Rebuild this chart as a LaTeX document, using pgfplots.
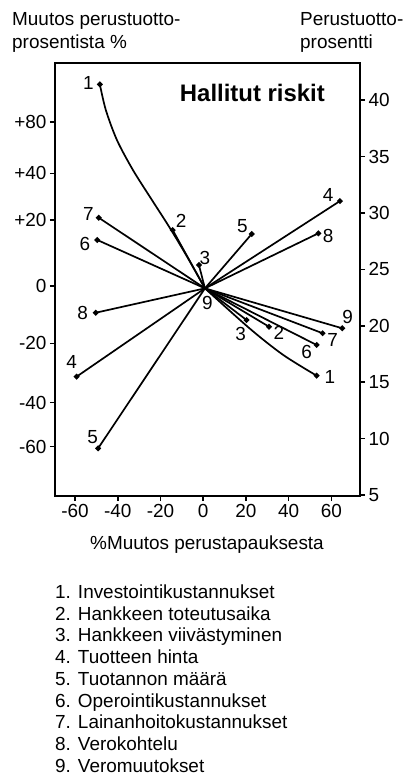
\documentclass[border=0pt]{standalone}
\usepackage{fontspec}
\setmainfont{Liberation Sans}
\usepackage{pgfplots}
\pgfplotsset{compat=1.18}

\pgfplotsset{
  frame/.style={
    at={(55bp,-496bp)}, anchor=south west,
    width=305bp, height=433bp, scale only axis,
    xmin=-69.4, xmax=73.4, ymin=4.91, ymax=43.3,
    tick align=outside,
    major tick length=5bp,
    tick style={black, line width=1.5bp},
    axis line style={black, line width=1.7bp},
    ticklabel style={font=\fontsize{19}{22}\selectfont},
    clip=false,
  },
  riski/.style={black, line width=1.7bp, mark=*, mark size=1.9bp},
}

\begin{document}
\begin{tikzpicture}[font=\fontsize{19}{22}\selectfont]
\path[use as bounding box] (0,0) rectangle (404bp,-775bp);

% left axis: change of the base return (irregular scale)
\begin{axis}[frame,
  xtick=\empty,
  ytick pos=left,
  ytick={38.09,33.52,29.38,23.53,18.45,13.19,9.28},
  yticklabels={+80,+40,+20,0,-20,-40,-60},
]
\end{axis}

% main axis: base return on the right, % change below
\begin{axis}[frame,
  xtick pos=left, ytick pos=right,
  xtick={-60,-40,-20,0,20,40,60},
  xticklabels={-60,-40,-20,0,20,40,60},
  ytick={5,10,15,20,25,30,35,40},
  yticklabels={5,10,15,20,25,30,35,40},
]
% 1 (both branches slightly curved)
\addplot[riski, smooth, mark indices={1}] coordinates {
  (-48.4,41.41) (-45.6,39.13) (-40.4,36.47) (-32.9,33.81) (-24.0,31.15)
  (-15.6,28.67) (-7.2,26.01) (0.8,23.32)};
\addplot[riski, smooth, mark indices={4}] coordinates {
  (0.8,23.32) (21.95,19.73) (37.5,17.41) (53.1,15.58)};
% 2
\addplot[riski, mark indices={1,3}] coordinates {(-14.3,28.49) (0.8,23.32) (30.8,19.92)};
% 3
\addplot[riski, mark indices={1,3}] coordinates {(-2.0,25.39) (0.8,23.32) (20.3,20.51)};
% 4
\addplot[riski, mark indices={1,3}] coordinates {(-59.3,15.49) (0.8,23.32) (64.0,31.06)};
% 5
\addplot[riski, mark indices={1,3}] coordinates {(-49.2,9.14) (0.8,23.32) (22.7,28.14)};
% 6
\addplot[riski, mark indices={1,3}] coordinates {(-49.6,27.61) (0.8,23.32) (53.1,18.30)};
% 7
\addplot[riski, mark indices={1,3}] coordinates {(-48.9,29.58) (0.8,23.32) (55.9,19.34)};
% 8
\addplot[riski, mark indices={1,3}] coordinates {(-50.3,21.16) (0.8,23.32) (53.9,28.20)};
% 9
\addplot[riski, mark indices={2}] coordinates {(0.8,23.32) (65.1,19.78)};

% factor numbers
\node at (axis cs:-53.8,41.5) {1};
\node at (axis cs:59.3,15.49) {1};
\node at (axis cs:-10.4,29.29) {2};
\node at (axis cs:35.4,19.34) {2};
\node at (axis cs:0.8,25.98) {3};
\node at (axis cs:17.5,19.25) {3};
\node at (axis cs:58.5,31.6) {4};
\node at (axis cs:-61.6,16.76) {4};
\node at (axis cs:18.3,28.85) {5};
\node at (axis cs:-51.8,10.17) {5};
\node at (axis cs:-55.4,27.23) {6};
\node at (axis cs:48.4,17.70) {6};
\node at (axis cs:-53.8,29.88) {7};
\node at (axis cs:60.6,18.74) {7};
\node at (axis cs:-56.5,21.11) {8};
\node at (axis cs:58.5,27.96) {8};
\node at (axis cs:1.9,22.0) {9};
\node at (axis cs:67.6,20.81) {9};

\node[font=\fontsize{24}{28}\selectfont\bfseries] at (axis cs:23.0,40.64) {Hallitut riskit};
\end{axis}

% axis titles
\begin{scope}[every node/.style={inner sep=0pt, anchor=base west}]
\node at (12bp,-25bp) {Muutos perustuotto-};
\node at (12bp,-48.5bp) {prosentista \%};
\node at (300bp,-25bp) {Perustuotto-};
\node at (300bp,-48.5bp) {prosentti};
\node[anchor=base] at (207bp,-549bp) {\%Muutos perustapauksesta};

% key to the factors
\node at (55bp,-598.5bp) {1. Investointikustannukset};
\node at (55bp,-620.2bp) {2. Hankkeen toteutusaika};
\node at (55bp,-641.9bp) {3. Hankkeen viivästyminen};
\node at (55bp,-663.6bp) {4. Tuotteen hinta};
\node at (55bp,-685.3bp) {5. Tuotannon määrä};
\node at (55bp,-707.0bp) {6. Operointikustannukset};
\node at (55bp,-728.7bp) {7. Lainanhoitokustannukset};
\node at (55bp,-750.4bp) {8. Verokohtelu};
\node at (55bp,-772.1bp) {9. Veromuutokset};
\end{scope}
\end{tikzpicture}
\end{document}
